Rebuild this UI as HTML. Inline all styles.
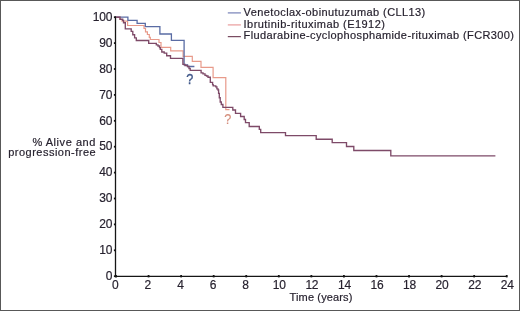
<!DOCTYPE html>
<html><head><meta charset="utf-8"><style>
html,body{margin:0;padding:0;background:#fff;}
#w{position:relative;width:520px;height:311px;overflow:hidden;background:#fff;}
#b{position:absolute;left:0;top:0;width:520px;height:311px;box-sizing:border-box;border:1px solid #585858;}
svg{position:absolute;left:0;top:0;will-change:transform;}
svg text{font-family:"Liberation Sans", sans-serif;fill:#26212e;stroke:#26212e;stroke-width:0.18px;}
</style></head><body><div id="w">
<svg width="520" height="311" viewBox="0 0 520 311">
<line x1="115.5" y1="16.6" x2="115.5" y2="276.9" stroke="#151515" stroke-width="1.3"/>
<line x1="114.9" y1="276.3" x2="507.2" y2="276.3" stroke="#151515" stroke-width="1.3"/>
<line x1="113.9" y1="276.20" x2="116" y2="276.20" stroke="#151515" stroke-width="1.8"/>
<text x="112.2" y="279.90" text-anchor="end" font-size="12" letter-spacing="-0.2">0</text>
<line x1="113.9" y1="250.30" x2="116" y2="250.30" stroke="#151515" stroke-width="1.8"/>
<text x="112.2" y="254.00" text-anchor="end" font-size="12" letter-spacing="-0.2">10</text>
<line x1="113.9" y1="224.40" x2="116" y2="224.40" stroke="#151515" stroke-width="1.8"/>
<text x="112.2" y="228.10" text-anchor="end" font-size="12" letter-spacing="-0.2">20</text>
<line x1="113.9" y1="198.50" x2="116" y2="198.50" stroke="#151515" stroke-width="1.8"/>
<text x="112.2" y="202.20" text-anchor="end" font-size="12" letter-spacing="-0.2">30</text>
<line x1="113.9" y1="172.60" x2="116" y2="172.60" stroke="#151515" stroke-width="1.8"/>
<text x="112.2" y="176.30" text-anchor="end" font-size="12" letter-spacing="-0.2">40</text>
<line x1="113.9" y1="146.70" x2="116" y2="146.70" stroke="#151515" stroke-width="1.8"/>
<text x="112.2" y="150.40" text-anchor="end" font-size="12" letter-spacing="-0.2">50</text>
<line x1="113.9" y1="120.80" x2="116" y2="120.80" stroke="#151515" stroke-width="1.8"/>
<text x="112.2" y="124.50" text-anchor="end" font-size="12" letter-spacing="-0.2">60</text>
<line x1="113.9" y1="94.90" x2="116" y2="94.90" stroke="#151515" stroke-width="1.8"/>
<text x="112.2" y="98.60" text-anchor="end" font-size="12" letter-spacing="-0.2">70</text>
<line x1="113.9" y1="69.00" x2="116" y2="69.00" stroke="#151515" stroke-width="1.8"/>
<text x="112.2" y="72.70" text-anchor="end" font-size="12" letter-spacing="-0.2">80</text>
<line x1="113.9" y1="43.10" x2="116" y2="43.10" stroke="#151515" stroke-width="1.8"/>
<text x="112.2" y="46.80" text-anchor="end" font-size="12" letter-spacing="-0.2">90</text>
<line x1="113.9" y1="17.20" x2="116" y2="17.20" stroke="#151515" stroke-width="1.8"/>
<text x="112.2" y="20.90" text-anchor="end" font-size="12" letter-spacing="-0.2">100</text>
<line x1="116.00" y1="275" x2="116.00" y2="277.4" stroke="#151515" stroke-width="1.8"/>
<text x="115.30" y="288.9" text-anchor="middle" font-size="12" letter-spacing="-0.2">0</text>
<line x1="148.56" y1="275" x2="148.56" y2="277.4" stroke="#151515" stroke-width="1.8"/>
<text x="147.86" y="288.9" text-anchor="middle" font-size="12" letter-spacing="-0.2">2</text>
<line x1="181.12" y1="275" x2="181.12" y2="277.4" stroke="#151515" stroke-width="1.8"/>
<text x="180.42" y="288.9" text-anchor="middle" font-size="12" letter-spacing="-0.2">4</text>
<line x1="213.68" y1="275" x2="213.68" y2="277.4" stroke="#151515" stroke-width="1.8"/>
<text x="212.98" y="288.9" text-anchor="middle" font-size="12" letter-spacing="-0.2">6</text>
<line x1="246.24" y1="275" x2="246.24" y2="277.4" stroke="#151515" stroke-width="1.8"/>
<text x="245.54" y="288.9" text-anchor="middle" font-size="12" letter-spacing="-0.2">8</text>
<line x1="278.80" y1="275" x2="278.80" y2="277.4" stroke="#151515" stroke-width="1.8"/>
<text x="279.30" y="288.9" text-anchor="middle" font-size="12" letter-spacing="-0.2">10</text>
<line x1="311.36" y1="275" x2="311.36" y2="277.4" stroke="#151515" stroke-width="1.8"/>
<text x="311.86" y="288.9" text-anchor="middle" font-size="12" letter-spacing="-0.2">12</text>
<line x1="343.92" y1="275" x2="343.92" y2="277.4" stroke="#151515" stroke-width="1.8"/>
<text x="344.42" y="288.9" text-anchor="middle" font-size="12" letter-spacing="-0.2">14</text>
<line x1="376.48" y1="275" x2="376.48" y2="277.4" stroke="#151515" stroke-width="1.8"/>
<text x="376.98" y="288.9" text-anchor="middle" font-size="12" letter-spacing="-0.2">16</text>
<line x1="409.04" y1="275" x2="409.04" y2="277.4" stroke="#151515" stroke-width="1.8"/>
<text x="409.54" y="288.9" text-anchor="middle" font-size="12" letter-spacing="-0.2">18</text>
<line x1="441.60" y1="275" x2="441.60" y2="277.4" stroke="#151515" stroke-width="1.8"/>
<text x="442.10" y="288.9" text-anchor="middle" font-size="12" letter-spacing="-0.2">20</text>
<line x1="474.16" y1="275" x2="474.16" y2="277.4" stroke="#151515" stroke-width="1.8"/>
<text x="474.66" y="288.9" text-anchor="middle" font-size="12" letter-spacing="-0.2">22</text>
<line x1="506.72" y1="275" x2="506.72" y2="277.4" stroke="#151515" stroke-width="1.8"/>
<text x="507.22" y="288.9" text-anchor="middle" font-size="12" letter-spacing="-0.2">24</text>
<polyline points="116.0,17.2 120.0,17.2 120.0,19.5 122.0,19.5 122.0,21.2 127.6,21.2 127.6,25.5 144.0,25.5 144.0,28.5 145.5,28.5 145.5,31.8 147.4,31.8 147.4,34.5 149.3,34.5 149.3,37.4 150.3,37.4 150.3,39.5 159.0,39.5 159.0,42.5 161.0,42.5 161.0,47.4 170.7,47.4 170.7,50.8 183.1,50.8 183.1,56.3 192.3,56.3 192.3,61.4 201.0,61.4 201.0,67.3 213.1,67.3 213.1,77.6 225.8,77.6 225.8,109.7 229.5,109.7" fill="none" stroke="#e89a8a" stroke-width="1.2" stroke-linejoin="miter"/>
<polyline points="116.0,17.2 127.9,17.2 127.9,20.4 137.1,20.4 137.1,23.3 145.3,23.3 145.3,26.6 159.9,26.6 159.9,34.0 171.4,34.0 171.4,40.4 184.1,40.4 184.1,64.9 187.5,64.9 187.5,66.5 194.4,66.5" fill="none" stroke="#5a6ca4" stroke-width="1.3" stroke-linejoin="miter"/>
<polyline points="116.0,17.2 120.0,17.2 120.0,19.2 122.7,19.2 122.7,20.4 123.5,20.4 123.5,22.7 125.3,22.7 125.3,28.8 131.2,28.8 131.2,31.3 132.8,31.3 132.8,34.7 134.6,34.7 134.6,37.8 136.3,37.8 136.3,40.5 148.7,40.5 148.7,43.3 156.3,43.3 156.3,44.9 158.0,44.9 158.0,46.0 159.5,46.0 159.5,47.6 160.3,47.6 160.3,49.3 161.8,49.3 161.8,52.0 164.2,52.0 164.2,53.1 166.7,53.1 166.7,55.7 170.5,55.7 170.5,58.4 182.9,58.4 182.9,64.4 185.0,64.4 185.0,65.5 187.5,65.5 187.5,66.5 189.0,66.5 189.0,68.5 190.2,68.5 190.2,70.3 201.1,70.3 201.1,72.8 203.0,72.8 203.0,73.9 205.0,73.9 205.0,75.3 206.5,75.3 206.5,76.0 208.0,76.0 208.0,77.2 210.3,77.2 210.3,82.4 212.6,82.4 212.6,84.6 213.2,84.6 213.2,85.8 215.8,85.8 215.8,86.8 216.9,86.8 216.9,88.9 218.0,88.9 218.0,90.0 218.6,90.0 218.6,93.3 219.3,93.3 219.3,97.7 220.2,97.7 220.2,102.0 221.3,102.0 221.3,104.5 222.9,104.5 222.9,107.3 232.8,107.3 232.8,110.0 235.5,110.0 235.5,113.4 240.6,113.4 240.6,116.5 244.2,116.5 244.2,119.5 245.5,119.5 245.5,122.6 249.2,122.6 249.2,126.5 259.3,126.5 259.3,129.3 260.7,129.3 260.7,132.6 285.5,132.6 285.5,135.6 316.2,135.6 316.2,139.2 332.2,139.2 332.2,142.6 346.5,142.6 346.5,146.5 353.8,146.5 353.8,150.5 390.8,150.5 390.8,155.9 495.4,155.9" fill="none" stroke="#7e4a68" stroke-width="1.35" stroke-linejoin="miter"/>
<text transform="translate(189.7,84.3) scale(0.83,0.99)" text-anchor="middle" font-size="15.3" style="fill:#3e5688;stroke:#3e5688;stroke-width:0.35">?</text>
<text transform="translate(227.9,124.4) scale(0.83,0.99)" text-anchor="middle" font-size="15.3" style="fill:#d48e7c;stroke:#d48e7c;stroke-width:0.15">?</text>
<line x1="227.8" y1="12.9" x2="240.9" y2="12.9" stroke="#7c86ba" stroke-width="1.25"/>
<text x="243.6" y="16.2" font-size="11" letter-spacing="0.41">Venetoclax-obinutuzumab (CLL13)</text>
<line x1="227.8" y1="24.9" x2="240.9" y2="24.9" stroke="#eaa0a0" stroke-width="1.25"/>
<text x="243.6" y="27.6" font-size="11" letter-spacing="0.45">Ibrutinib-rituximab (E1912)</text>
<line x1="227.8" y1="36.6" x2="240.9" y2="36.6" stroke="#7a4c62" stroke-width="1.25"/>
<text x="243.6" y="39.0" font-size="11" letter-spacing="0.39">Fludarabine-cyclophosphamide-rituximab (FCR300)</text>
<text x="32.4" y="145.6" font-size="11" letter-spacing="0.55">% Alive and</text>
<text x="8.2" y="155.9" font-size="11" letter-spacing="0.49">progression-free</text>
<text x="289.6" y="300.5" font-size="11" letter-spacing="0.13">Time (years)</text>
</svg>
<div id="b"></div>
</div></body></html>
